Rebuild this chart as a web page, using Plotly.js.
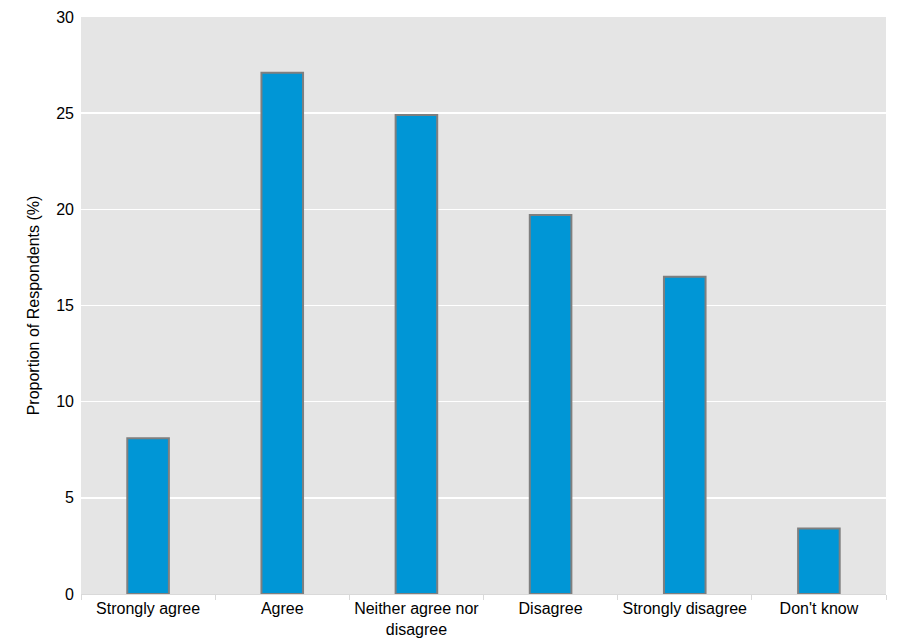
<!DOCTYPE html>
<html>
<head>
<meta charset="utf-8">
<script src="https://cdn.plot.ly/plotly-3.0.1.min.js"></script>
<style>
  html, body { margin: 0; padding: 0; background: #ffffff; }
  #chart { width: 897px; height: 643px; }
</style>
</head>
<body>
<div id="chart"></div>
<script>
// Survey responses: share of respondents per answer
const categories = [
  "Strongly agree",
  "Agree",
  "Neither agree nor<br>disagree",
  "Disagree",
  "Strongly disagree",
  "Don't know"
];
const proportions = [8.1, 27.1, 24.9, 19.7, 16.5, 3.4];
const yTicks = [0, 5, 10, 15, 20, 25, 30];

const trace = {
  type: "bar",
  x: categories,
  y: proportions,
  width: 0.31,
  marker: {
    color: "#0096d6",
    line: { color: "#7f7f7f", width: 2 }
  },
  hoverinfo: "x+y"
};

const layout = {
  width: 897,
  height: 643,
  margin: { l: 81, r: 11, t: 17, b: 49 },
  paper_bgcolor: "#ffffff",
  plot_bgcolor: "#e5e5e5",
  font: { family: "Liberation Sans, Arial, sans-serif", size: 16, color: "#000000" },
  showlegend: false,
  bargap: 0,
  xaxis: {
    type: "category",
    showgrid: false,
    zeroline: false,
    showline: true,
    linecolor: "#d9d9d9",
    linewidth: 1,
    ticks: "outside",
    tickson: "boundaries",
    ticklen: 5,
    tickcolor: "#d9d9d9",
    tickangle: 0,
    tickfont: { size: 16 },
    fixedrange: true
  },
  yaxis: {
    range: [0, 30],
    tickvals: yTicks,
    ticktext: yTicks.map(String),
    showgrid: true,
    gridcolor: "#ffffff",
    gridwidth: 1.5,
    zeroline: false,
    showline: false,
    ticks: "",
    ticklabelstandoff: 6,
    tickfont: { size: 16 },
    title: { text: "Proportion of Respondents (%)", font: { size: 16 }, standoff: 12 },
    fixedrange: true
  }
};

Plotly.newPlot("chart", [trace], layout, { displayModeBar: false, staticPlot: true });
</script>
</body>
</html>
